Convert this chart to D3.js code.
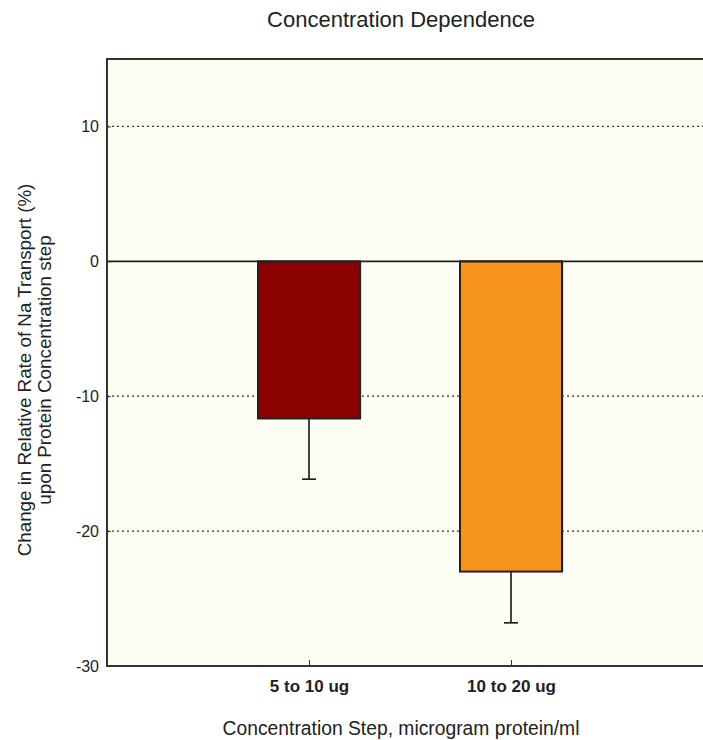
<!DOCTYPE html>
<html>
<head>
<meta charset="utf-8">
<script src="https://cdn.jsdelivr.net/npm/d3@7.9.0/dist/d3.min.js"></script>
<style>
  body { margin: 0; background: #fff; }
  text { font-family: "Liberation Sans", Arial, sans-serif; fill: #222; }
</style>
</head>
<body>
<svg id="chart" width="703" height="740"></svg>
<script>
// data
const categories = ['5 to 10 ug', '10 to 20 ug'];
const values = [-11.65, -23.0];
const errors = [4.5, 3.8];
const barColors = ['#8b0000', '#f7941d'];
const yTicks = [-30, -20, -10, 0, 10];

const svg = d3.select('#chart');
const plotL = 107, plotT = 59, plotR = 713, plotB = 666;

let y = d3.scaleLinear().domain([-30, 15]).range([plotB, plotT]);
let x = d3.scalePoint().domain(categories).range([plotL, plotR]).padding(1);
const barW = 102;

// plot background
svg.append('rect')
  .attr('x', plotL).attr('y', plotT)
  .attr('width', 703 - plotL).attr('height', plotB - plotT)
  .attr('fill', '#fdfdf3');

// dotted gridlines
yTicks.filter((t) => t !== 0 && t !== -30).forEach((t) => {
  svg.append('line')
    .attr('x1', plotL).attr('x2', 703)
    .attr('y1', y(t)).attr('y2', y(t))
    .attr('stroke', '#333').attr('stroke-width', 1.3)
    .attr('stroke-dasharray', '2,3');
});

// error bars (drawn first so bars sit over the stem top)
categories.forEach((c, i) => {
  let cx = x(c);
  svg.append('line')
    .attr('x1', cx).attr('x2', cx)
    .attr('y1', y(values[i])).attr('y2', y(values[i] - errors[i]))
    .attr('stroke', '#222').attr('stroke-width', 1.7);
  svg.append('line')
    .attr('x1', cx - 7).attr('x2', cx + 7)
    .attr('y1', y(values[i] - errors[i])).attr('y2', y(values[i] - errors[i]))
    .attr('stroke', '#222').attr('stroke-width', 1.7);
});

// bars
categories.forEach((c, i) => {
  svg.append('rect')
    .attr('x', x(c) - barW / 2 + 1.5).attr('y', y(0))
    .attr('width', barW).attr('height', y(values[i]) - y(0))
    .attr('fill', '#999').attr('opacity', 0.6);
  svg.append('rect')
    .attr('x', x(c) - barW / 2).attr('y', y(0))
    .attr('width', barW).attr('height', y(values[i]) - y(0))
    .attr('fill', barColors[i])
    .attr('stroke', '#222').attr('stroke-width', 2);
});

// zero line
svg.append('line')
  .attr('x1', plotL).attr('x2', 703)
  .attr('y1', y(0)).attr('y2', y(0))
  .attr('stroke', '#222').attr('stroke-width', 1.8);

// frame: left, top, bottom
svg.append('path')
  .attr('d', `M703,${plotT}H${plotL}V${plotB}H703`)
  .attr('fill', 'none').attr('stroke', '#333').attr('stroke-width', 2);

// y axis
let yAxis = d3.axisLeft(y).tickValues(yTicks).tickSize(-4).tickPadding(8)
  .tickFormat((d) => String(d));
let gy = svg.append('g').attr('transform', `translate(${plotL},0)`).call(yAxis);
gy.select('.domain').remove();
gy.selectAll('line').attr('stroke', '#333');
gy.selectAll('text').attr('font-size', 16).attr('fill', '#222')
  .style('font-family', '"Liberation Sans", Arial, sans-serif');

// x axis
let xAxis = d3.axisBottom(x).tickSize(-6).tickPadding(14);
let gx = svg.append('g').attr('transform', `translate(0,${plotB})`).call(xAxis);
gx.select('.domain').remove();
gx.selectAll('line').attr('stroke', '#333');
gx.selectAll('text').attr('font-size', 17).attr('font-weight', 'bold').attr('fill', '#222')
  .style('font-family', '"Liberation Sans", Arial, sans-serif');

// titles
svg.append('text')
  .attr('x', 401).attr('y', 27)
  .attr('text-anchor', 'middle').attr('font-size', 22)
  .text('Concentration Dependence');

svg.append('text')
  .attr('x', 401).attr('y', 735)
  .attr('text-anchor', 'middle').attr('font-size', 19.3)
  .text('Concentration Step, microgram protein/ml');

let yl = svg.append('text')
  .attr('transform', 'translate(31,370) rotate(-90)')
  .attr('text-anchor', 'middle').attr('font-size', 18.8);
yl.append('tspan').attr('x', 0).attr('dy', 0).text('Change in Relative Rate of Na Transport (%)');
yl.append('tspan').attr('x', 0).attr('dy', 20).text('upon Protein Concentration step');
</script>
</body>
</html>
